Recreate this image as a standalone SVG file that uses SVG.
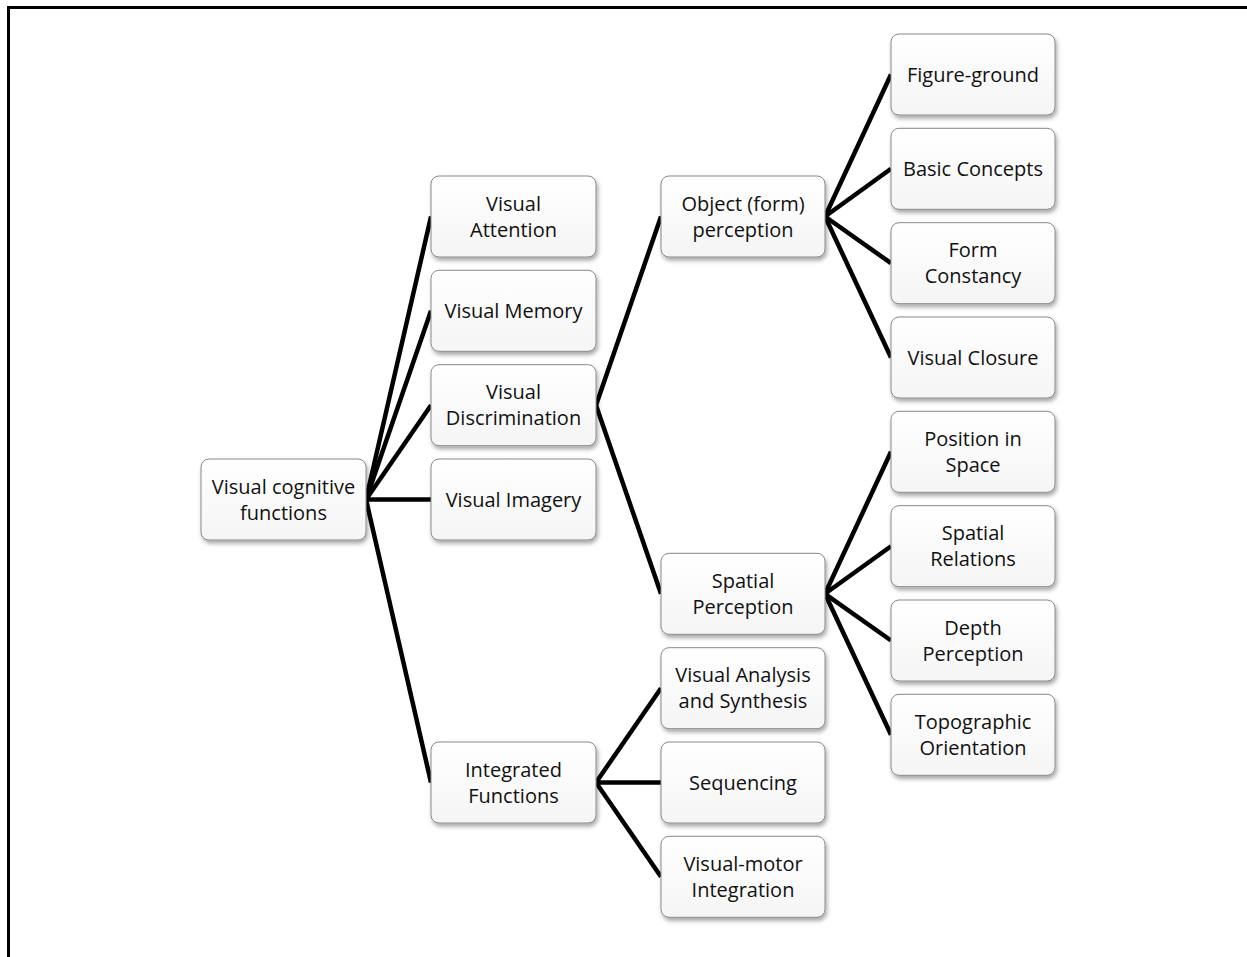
<svg xmlns="http://www.w3.org/2000/svg" width="1247" height="957" viewBox="0 0 1247 957">
  <style>
    .box { fill: url(#boxgrad); stroke: #8a8a8a; stroke-width: 1; filter: url(#shadow); }
    .lbl { font-family: "Open Sans", "Liberation Sans", sans-serif; font-size: 20px; fill: #111; text-anchor: middle; }
    .conn line { stroke: #000; stroke-width: 4.5; stroke-linecap: butt; }
    .frame { stroke: #000; stroke-width: 3; fill: none; }
  </style>
  <defs>
    <linearGradient id="boxgrad" x1="0" y1="0" x2="0" y2="1">
      <stop offset="0" stop-color="#ffffff"/>
      <stop offset="1" stop-color="#f5f5f5"/>
    </linearGradient>
    <filter id="shadow" x="-10%" y="-10%" width="125%" height="135%">
      <feDropShadow dx="1.5" dy="3" stdDeviation="2" flood-color="#000" flood-opacity="0.35"/>
    </filter>
  </defs>
  <rect width="1247" height="957" fill="#fff"/>
  <path class="frame" d="M8.5,957 V7.5 H1247"/>

  <g id="connectors" class="conn">
    <line x1="366" y1="499.5" x2="431" y2="216.5"/>
    <line x1="366" y1="499.5" x2="431" y2="310.8"/>
    <line x1="366" y1="499.5" x2="431" y2="405.2"/>
    <line x1="366" y1="499.5" x2="431" y2="499.5"/>
    <line x1="366" y1="499.5" x2="431" y2="782.5"/>
    <line x1="596" y1="405.2" x2="661" y2="216.5"/>
    <line x1="596" y1="405.2" x2="661" y2="593.8"/>
    <line x1="596" y1="782.5" x2="661" y2="688.2"/>
    <line x1="596" y1="782.5" x2="661" y2="782.5"/>
    <line x1="596" y1="782.5" x2="661" y2="876.8"/>
    <line x1="825" y1="216.5" x2="891" y2="74.5"/>
    <line x1="825" y1="216.5" x2="891" y2="168.8"/>
    <line x1="825" y1="216.5" x2="891" y2="263.2"/>
    <line x1="825" y1="216.5" x2="891" y2="357.5"/>
    <line x1="825" y1="593.8" x2="891" y2="451.8"/>
    <line x1="825" y1="593.8" x2="891" y2="546.2"/>
    <line x1="825" y1="593.8" x2="891" y2="640.5"/>
    <line x1="825" y1="593.8" x2="891" y2="734.8"/>
  </g>

  <g id="n-root"><rect class="box" x="201" y="459" width="165" height="81" rx="8"/><text class="lbl" x="283.5" y="493.5">Visual cognitive</text><text class="lbl" x="283.5" y="519.5">functions</text></g>

  <g id="n-attention"><rect class="box" x="431" y="176" width="165" height="81" rx="8"/><text class="lbl" x="513.5" y="210.5">Visual</text><text class="lbl" x="513.5" y="236.5">Attention</text></g>
  <g id="n-memory"><rect class="box" x="431" y="270.3" width="165" height="81" rx="8"/><text class="lbl" x="513.5" y="317.8">Visual Memory</text></g>
  <g id="n-discrimination"><rect class="box" x="431" y="364.7" width="165" height="81" rx="8"/><text class="lbl" x="513.5" y="399.2">Visual</text><text class="lbl" x="513.5" y="425.2">Discrimination</text></g>
  <g id="n-imagery"><rect class="box" x="431" y="459" width="165" height="81" rx="8"/><text class="lbl" x="513.5" y="506.5">Visual Imagery</text></g>
  <g id="n-integrated"><rect class="box" x="431" y="742" width="165" height="81" rx="8"/><text class="lbl" x="513.5" y="776.5">Integrated</text><text class="lbl" x="513.5" y="802.5">Functions</text></g>

  <g id="n-object"><rect class="box" x="661" y="176" width="164" height="81" rx="8"/><text class="lbl" x="743" y="210.5">Object (form)</text><text class="lbl" x="743" y="236.5">perception</text></g>
  <g id="n-spatial"><rect class="box" x="661" y="553.3" width="164" height="81" rx="8"/><text class="lbl" x="743" y="587.8">Spatial</text><text class="lbl" x="743" y="613.8">Perception</text></g>
  <g id="n-analysis"><rect class="box" x="661" y="647.7" width="164" height="81" rx="8"/><text class="lbl" x="743" y="682.2">Visual Analysis</text><text class="lbl" x="743" y="708.2">and Synthesis</text></g>
  <g id="n-sequencing"><rect class="box" x="661" y="742" width="164" height="81" rx="8"/><text class="lbl" x="743" y="789.5">Sequencing</text></g>
  <g id="n-visualmotor"><rect class="box" x="661" y="836.3" width="164" height="81" rx="8"/><text class="lbl" x="743" y="870.8">Visual-motor</text><text class="lbl" x="743" y="896.8">Integration</text></g>

  <g id="n-figure"><rect class="box" x="891" y="34" width="164" height="81" rx="8"/><text class="lbl" x="973" y="81.5">Figure-ground</text></g>
  <g id="n-basic"><rect class="box" x="891" y="128.3" width="164" height="81" rx="8"/><text class="lbl" x="973" y="175.8">Basic Concepts</text></g>
  <g id="n-formconst"><rect class="box" x="891" y="222.7" width="164" height="81" rx="8"/><text class="lbl" x="973" y="257.2">Form</text><text class="lbl" x="973" y="283.2">Constancy</text></g>
  <g id="n-closure"><rect class="box" x="891" y="317" width="164" height="81" rx="8"/><text class="lbl" x="973" y="364.5">Visual Closure</text></g>
  <g id="n-position"><rect class="box" x="891" y="411.3" width="164" height="81" rx="8"/><text class="lbl" x="973" y="445.8">Position in</text><text class="lbl" x="973" y="471.8">Space</text></g>
  <g id="n-relations"><rect class="box" x="891" y="505.7" width="164" height="81" rx="8"/><text class="lbl" x="973" y="540.2">Spatial</text><text class="lbl" x="973" y="566.2">Relations</text></g>
  <g id="n-depth"><rect class="box" x="891" y="600" width="164" height="81" rx="8"/><text class="lbl" x="973" y="634.5">Depth</text><text class="lbl" x="973" y="660.5">Perception</text></g>
  <g id="n-topo"><rect class="box" x="891" y="694.3" width="164" height="81" rx="8"/><text class="lbl" x="973" y="728.8">Topographic</text><text class="lbl" x="973" y="754.8">Orientation</text></g>
</svg>
